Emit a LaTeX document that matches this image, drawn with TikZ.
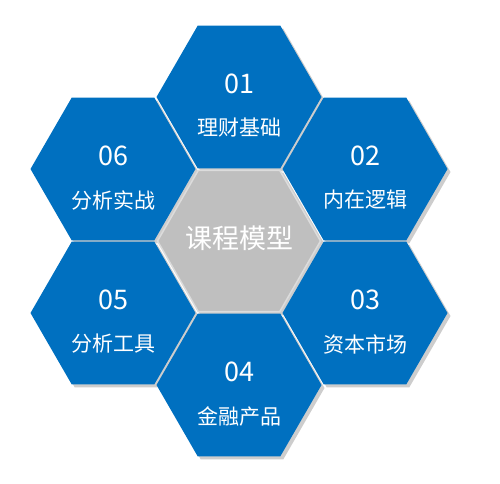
\documentclass[tikz,border=0pt]{standalone}
\usepackage{fontspec}
\newfontfamily\cjk{Noto Sans CJK SC}
\usetikzlibrary{shapes.geometric}
\definecolor{hexblue}{RGB}{0,112,192}
\definecolor{hexgray}{RGB}{191,191,191}
\definecolor{hexshadow}{RGB}{205,205,205}
\definecolor{hexrim}{RGB}{220,220,220}
\tikzset{
  hexa/.style={regular polygon, regular polygon sides=6, minimum size=165pt, inner sep=0pt, outer sep=0pt},
  hexshad/.style={hexa, fill=hexshadow},
  hexbox/.style={hexa, fill=hexblue},
  hexcore/.style={hexa, fill=hexgray, draw=hexrim, line width=1.5pt, minimum size=163pt},
  numtxt/.style={text=white, font=\cjk\fontsize{27}{27}\selectfont, inner sep=0pt},
  lbltxt/.style={text=white, font=\cjk\fontsize{21}{21}\selectfont, inner sep=0pt},
  coretxt/.style={text=white, font=\cjk\fontsize{27}{27}\selectfont, inner sep=0pt}
}
\begin{document}
\begin{tikzpicture}[x=1pt,y=-1pt]
\useasboundingbox (0,0) rectangle (500,483);
% shadows
\foreach \cx/\cy in {239/97,365/169,365/313,239/385,113/313,113/169,239/241}
  \node[hexshad] at (\cx+3,\cy+3) {};
% hexagons
\node[hexbox] (h1) at (239,97) {};
\node[hexbox] (h2) at (365,169) {};
\node[hexbox] (h3) at (365,313) {};
\node[hexbox] (h4) at (239,385) {};
\node[hexbox] (h5) at (113,313) {};
\node[hexbox] (h6) at (113,169) {};
\node[hexcore] (hc) at (239,241) {};
% texts
\node[coretxt] (tc) at (239,238) {课程模型};
\node[numtxt] (n1) at ([yshift=13pt]h1.center) {01};
\node[lbltxt] (t1) at ([yshift=-31pt]h1.center) {理财基础};
\node[numtxt] (n2) at ([yshift=13pt]h2.center) {02};
\node[lbltxt] (t2) at ([yshift=-31pt]h2.center) {内在逻辑};
\node[numtxt] (n3) at ([yshift=13pt]h3.center) {03};
\node[lbltxt] (t3) at ([yshift=-31pt]h3.center) {资本市场};
\node[numtxt] (n4) at ([yshift=13pt]h4.center) {04};
\node[lbltxt] (t4) at ([yshift=-31pt]h4.center) {金融产品};
\node[numtxt] (n5) at ([yshift=13pt]h5.center) {05};
\node[lbltxt] (t5) at ([yshift=-31pt]h5.center) {分析工具};
\node[numtxt] (n6) at ([yshift=13pt]h6.center) {06};
\node[lbltxt] (t6) at ([yshift=-31pt]h6.center) {分析实战};
\end{tikzpicture}
\end{document}
